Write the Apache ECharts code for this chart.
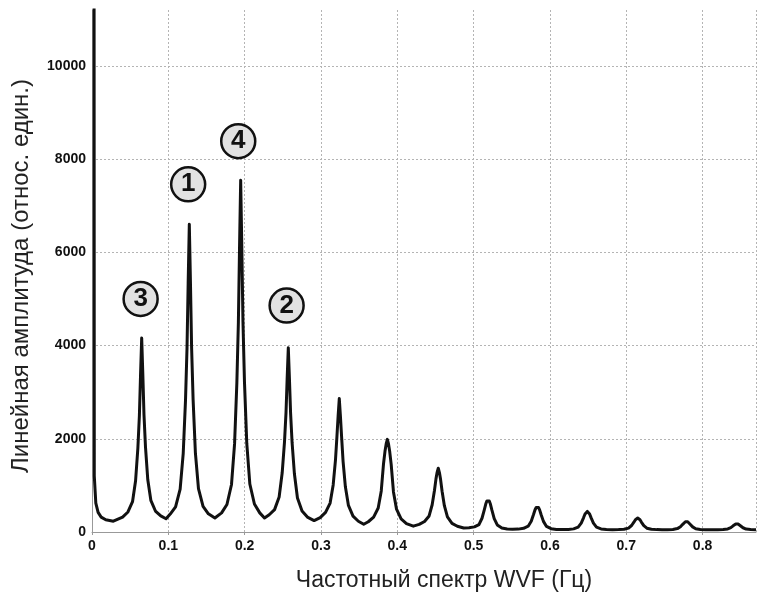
<!DOCTYPE html>
<html>
<head>
<meta charset="utf-8">
<script src="https://cdn.jsdelivr.net/npm/echarts@6/dist/echarts.min.js"></script>
<style>
  html, body { margin: 0; padding: 0; background: #fff; }
  #chart { width: 757px; height: 597px; }
</style>
</head>
<body>
<div id="chart"></div>
<script>
// WVF amplitude spectrum: [frequency (Hz), linear amplitude] pairs per harmonic,
// each segment running from the trough on its left to the trough on its right.
const dcSpike = [[0.002, 40000], [0.003, 1200], [0.005, 620], [0.008, 420], [0.012, 320], [0.018, 262], [0.028, 232]];
const harmonic1 = [[0.0401, 320], [0.0471, 430], [0.0531, 650], [0.0571, 1100], [0.0601, 1800], [0.0621, 2500], [0.0636, 3370], [0.0651, 4160], [0.0666, 3380], [0.0681, 2520], [0.0701, 1820], [0.0731, 1120], [0.0771, 680], [0.0831, 450], [0.0901, 345], [0.097, 285]];
const harmonic2 = [[0.1025, 385], [0.1095, 540], [0.1155, 920], [0.1195, 1680], [0.1225, 2820], [0.1245, 3950], [0.126, 5340], [0.1275, 6605], [0.129, 5350], [0.1305, 3960], [0.1325, 2830], [0.1355, 1690], [0.1395, 930], [0.1455, 550], [0.1525, 390], [0.161, 300]];
const harmonic3 = [[0.1698, 410], [0.1768, 590], [0.1828, 1020], [0.1868, 1890], [0.1898, 3200], [0.1918, 4500], [0.1933, 6100], [0.1948, 7545], [0.1963, 6110], [0.1978, 4510], [0.1998, 3210], [0.2028, 1900], [0.2068, 1030], [0.2128, 600], [0.2198, 410], [0.226, 300]];
const harmonic4 = [[0.2322, 370], [0.2392, 480], [0.2452, 750], [0.2492, 1270], [0.2522, 1930], [0.2542, 2560], [0.2557, 3290], [0.2572, 3954], [0.2587, 3280], [0.2602, 2550], [0.2622, 1910], [0.2652, 1250], [0.2692, 730], [0.2752, 450], [0.2822, 320], [0.291, 245]];
const harmonic5 = [[0.299, 310], [0.306, 420], [0.312, 620], [0.316, 1010], [0.319, 1540], [0.321, 2070], [0.3225, 2490], [0.324, 2864], [0.3255, 2480], [0.327, 2050], [0.329, 1510], [0.332, 970], [0.336, 570], [0.342, 340], [0.349, 230], [0.356, 165]];
const harmonic6 = [[0.362, 220], [0.369, 320], [0.375, 515], [0.379, 880], [0.382, 1470], [0.384, 1745], [0.3855, 1895], [0.387, 1988], [0.3885, 1890], [0.39, 1735], [0.392, 1450], [0.395, 860], [0.399, 490], [0.405, 280], [0.412, 180], [0.421, 125]];
const harmonic7 = [[0.4287, 163], [0.4357, 226], [0.4417, 345], [0.4457, 585], [0.4487, 890], [0.4507, 1140], [0.4522, 1280], [0.4537, 1368], [0.4552, 1275], [0.4567, 1130], [0.4587, 875], [0.4617, 565], [0.4657, 325], [0.4717, 186], [0.4787, 123], [0.487, 85]];
const harmonic8 = [[0.494, 90], [0.501, 110], [0.507, 159], [0.511, 295], [0.514, 475], [0.516, 605], [0.5175, 667], [0.519, 690], [0.5205, 665], [0.522, 600], [0.524, 468], [0.527, 288], [0.531, 152], [0.537, 85], [0.544, 64], [0.551, 60]];
const harmonic9 = [[0.5585, 62], [0.5655, 80], [0.5715, 125], [0.5755, 232], [0.5785, 374], [0.5805, 477], [0.582, 526], [0.5835, 549], [0.585, 525], [0.5865, 475], [0.5885, 370], [0.5915, 228], [0.5955, 120], [0.6015, 72], [0.6085, 54], [0.616, 52]];
const harmonic10 = [[0.624, 55], [0.631, 67], [0.637, 106], [0.641, 192], [0.644, 305], [0.646, 387], [0.6475, 426], [0.649, 442], [0.6505, 425], [0.652, 385], [0.654, 302], [0.657, 190], [0.661, 104], [0.667, 66], [0.674, 54], [0.682, 50]];
const harmonic11 = [[0.69, 52], [0.697, 59], [0.703, 84], [0.707, 139], [0.71, 211], [0.712, 264], [0.7135, 289], [0.715, 299], [0.7165, 288], [0.718, 262], [0.72, 208], [0.723, 136], [0.727, 82], [0.733, 58], [0.74, 51], [0.747, 48]];
const harmonic12 = [[0.754, 50], [0.761, 55], [0.767, 73], [0.771, 113], [0.774, 165], [0.776, 203], [0.7775, 221], [0.779, 228], [0.7805, 220], [0.782, 201], [0.784, 162], [0.787, 110], [0.791, 71], [0.797, 54], [0.804, 49], [0.812, 48]];
const harmonic13 = [[0.82, 50], [0.827, 53], [0.833, 66], [0.837, 94], [0.84, 132], [0.842, 159], [0.8435, 172], [0.845, 177], [0.8465, 171], [0.848, 157], [0.85, 129], [0.853, 91], [0.857, 64], [0.863, 52], [0.87, 48]];

// Circled peak markers
const tagText = ['3', '1', '4', '2'];
const tagFreq = [0.0637, 0.126, 0.1916, 0.255];
const tagAmp = [5000, 7460, 8385, 4858];

// Axis tick values
const xTicks = [0, 0.1, 0.2, 0.3, 0.4, 0.5, 0.6, 0.7, 0.8];
const yTicks = [0, 2000, 4000, 6000, 8000, 10000];

const spectrum = [].concat(dcSpike, harmonic1, harmonic2, harmonic3, harmonic4, harmonic5,
  harmonic6, harmonic7, harmonic8, harmonic9, harmonic10, harmonic11, harmonic12, harmonic13);

const FONT = '"Liberation Sans", Arial, sans-serif';
const GRID_COLOR = '#b4b4b4';

const chart = echarts.init(document.getElementById('chart'), null, { renderer: 'canvas' });

chart.setOption({
  backgroundColor: '#ffffff',
  animation: false,
  grid: { left: 92, top: 10, right: 1, bottom: 63, containLabel: false },
  xAxis: {
    type: 'value',
    min: 0,
    max: 0.87,
    interval: 0.1,
    name: 'Частотный спектр WVF (Гц)',
    nameLocation: 'middle',
    nameGap: 37,
    nameTextStyle: { fontFamily: FONT, fontSize: 23, color: '#222', padding: [0, 0, 0, 40] },
    axisLine: { show: true, lineStyle: { color: '#999', width: 1 } },
    axisTick: { show: true, length: 3, lineStyle: { color: '#999' } },
    axisLabel: {
      fontFamily: FONT, fontSize: 14, fontWeight: 'bold', color: '#111', margin: 7,
      showMaxLabel: false,
      formatter: v => (xTicks.some(t => Math.abs(t - v) < 1e-9) ? String(+v.toFixed(1)) : '')
    },
    splitLine: { show: true, lineStyle: { color: GRID_COLOR, type: [2, 2], width: 1 } }
  },
  yAxis: {
    type: 'value',
    min: 0,
    max: 11200,
    interval: 2000,
    name: 'Линейная амплитуда (относ. един.)',
    nameLocation: 'middle',
    nameGap: 59,
    nameTextStyle: { fontFamily: FONT, fontSize: 24, color: '#222', padding: [0, 10, 0, 0] },
    axisLine: { show: true, lineStyle: { color: '#999', width: 1 } },
    axisTick: { show: false },
    axisLabel: {
      fontFamily: FONT, fontSize: 14, fontWeight: 'bold', color: '#111', margin: 6,
      showMaxLabel: false,
      formatter: v => (yTicks.indexOf(v) >= 0 ? String(v) : '')
    },
    splitLine: {
      show: true,
      lineStyle: {
        color: [GRID_COLOR, GRID_COLOR, GRID_COLOR, GRID_COLOR, GRID_COLOR, GRID_COLOR, 'rgba(0,0,0,0)'],
        type: [2, 2], width: 1
      }
    }
  },
  series: [
    {
      type: 'line',
      data: spectrum,
      showSymbol: false,
      symbol: 'none',
      clip: true,
      lineStyle: { color: '#111', width: 3, join: 'round' },
      z: 3
    },
    {
      type: 'scatter',
      data: tagFreq.map((f, i) => ({ value: [f, tagAmp[i]], name: tagText[i] })),
      symbol: 'circle',
      symbolSize: 34,
      itemStyle: { color: '#e2e2e2', borderColor: '#111', borderWidth: 2.5, opacity: 1 },
      label: {
        show: true,
        position: 'inside',
        formatter: p => p.name,
        fontFamily: FONT,
        fontSize: 26,
        fontWeight: 'bold',
        color: '#111'
      },
      z: 4
    }
  ]
});
</script>
</body>
</html>
